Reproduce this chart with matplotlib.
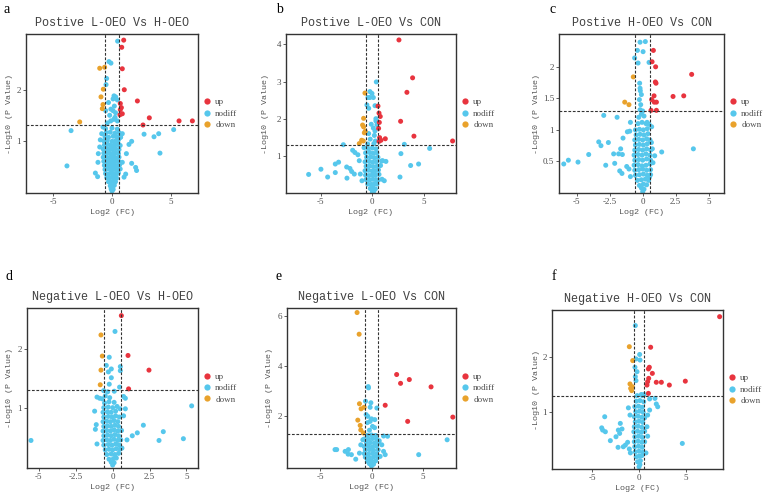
import matplotlib
matplotlib.use('Agg')
import matplotlib.pyplot as plt
from matplotlib.lines import Line2D
import numpy as np

plt.rcParams['axes.unicode_minus'] = False

# panel letters, titles and axis settings
letters = ['a', 'b', 'c', 'd', 'e', 'f']
titles = ['Postive L-OEO Vs H-OEO', 'Postive L-OEO Vs CON', 'Postive H-OEO Vs CON',
          'Negative L-OEO Vs H-OEO', 'Negative L-OEO Vs CON', 'Negative H-OEO Vs CON']
xlims = [(-7.35, 7.35), (-8.35, 8.1), (-6.34, 6.16), (-5.8, 5.78), (-8.2, 8.2), (-9.26, 8.94)]
ylims = [(-0.02, 3.09), (0.0, 4.28), (0.0, 2.52), (-0.03, 2.7), (-0.05, 6.3), (-0.02, 2.84)]
xticks = [[-5, 0, 5], [-5, 0, 5], [-5, -2.5, 0, 2.5, 5], [-5, -2.5, 0, 2.5, 5], [-5, 0, 5], [-5, 0, 5]]
yticks = [[1, 2], [1, 2, 3, 4], [0.5, 1, 1.5, 2], [1, 2], [2, 4, 6], [1, 2]]

# ---- a: Postive L-OEO Vs H-OEO
up_a = [(1.0, 2.97), (0.83, 2.83), (0.88, 2.41), (1.05, 2.0), (2.17, 1.78), (0.71, 1.73),
        (0.80, 1.65), (0.71, 1.61), (0.88, 1.53), (0.68, 1.51), (3.19, 1.45), (5.73, 1.39),
        (6.87, 1.39), (2.65, 1.31)]
down_a = [(-1.05, 2.42), (-0.63, 2.44), (-0.74, 2.01), (-0.94, 1.86), (-0.77, 1.71),
          (-0.83, 1.63), (-2.76, 1.37)]
nodiff_a = [(0.48, 2.95), (-0.26, 2.55), (-0.09, 2.52), (-0.46, 2.22), (-0.51, 2.1), (0.17, 1.88),
            (0.31, 1.86), (0.09, 1.82), (0.46, 1.8), (-3.5, 1.2), (-3.85, 0.51), (5.27, 1.22),
            (3.99, 1.14), (3.59, 1.08), (2.74, 1.13), (4.1, 0.76), (1.68, 0.99), (1.45, 0.93),
            (1.23, 0.75), (0.88, 0.58), (1.68, 0.56), (2.02, 0.48), (2.1, 0.42), (-1.42, 0.37),
            (-1.23, 0.30), (-1.17, 0.75), (-1.05, 0.88), (-0.88, 1.14), (-0.77, 1.27), (-1.0, 1.02),
            (-1.2, 0.58), (0.88, 1.14), (0.74, 1.07), (0.54, 0.94), (1.17, 0.35), (1.03, 0.29),
            (-0.54, 1.59), (-0.11, 1.39), (0.26, 1.46), (0.46, 1.39), (0.09, 1.59), (-0.4, 1.35),
            (0.15, 1.42), (-0.2, 1.5), (0.3, 1.55), (-0.1, 1.62), (0.2, 1.68), (-0.3, 1.75),
            (0.0, 0.02), (0.1, 0.05), (-0.08, 0.06), (-0.15, 0.12), (0.05, 0.11), (0.2, 0.13),
            (-0.3, 0.2), (-0.1, 0.19), (0.1, 0.21), (0.3, 0.2), (-0.45, 0.28), (-0.2, 0.27),
            (0.0, 0.29), (0.2, 0.28), (0.4, 0.27), (-0.55, 0.36), (-0.3, 0.35), (-0.05, 0.37),
            (0.15, 0.36), (0.35, 0.35), (0.55, 0.37), (-0.6, 0.44), (-0.35, 0.45), (-0.1, 0.43),
            (0.1, 0.45), (0.3, 0.44), (0.5, 0.43), (0.7, 0.45), (-0.65, 0.52), (-0.4, 0.53),
            (-0.15, 0.51), (0.05, 0.53), (0.25, 0.52), (0.45, 0.51), (0.65, 0.53), (-0.7, 0.6),
            (-0.45, 0.61), (-0.2, 0.59), (0.0, 0.6), (0.2, 0.61), (0.4, 0.6), (0.6, 0.59),
            (-0.75, 0.68), (-0.5, 0.69), (-0.25, 0.67), (-0.05, 0.68), (0.15, 0.69), (0.35, 0.67),
            (0.6, 0.68), (-0.7, 0.76), (-0.4, 0.77), (-0.15, 0.75), (0.1, 0.76), (0.3, 0.77),
            (0.55, 0.75), (-0.75, 0.84), (-0.45, 0.85), (-0.2, 0.83), (0.05, 0.84), (0.3, 0.85),
            (0.6, 0.83), (-0.65, 0.92), (-0.35, 0.93), (-0.1, 0.91), (0.2, 0.92), (0.45, 0.93),
            (0.7, 0.91), (-0.7, 1.0), (-0.4, 1.01), (0.0, 0.99), (0.3, 1.0), (0.55, 1.02),
            (-0.6, 1.08), (-0.3, 1.07), (0.1, 1.09), (0.4, 1.08), (0.7, 1.07), (-0.5, 1.16),
            (-0.15, 1.17), (0.25, 1.15), (0.6, 1.16), (-0.55, 1.24), (0.0, 1.25), (0.45, 1.23)]

# ---- b: Postive L-OEO Vs CON
up_b = [(2.58, 4.12), (3.9, 3.10), (3.35, 2.71), (0.55, 2.34), (2.74, 1.93), (0.65, 2.15),
        (0.77, 2.06), (0.68, 1.90), (0.61, 1.74), (4.03, 1.53), (1.26, 1.46), (0.71, 1.49),
        (0.84, 1.42), (0.65, 1.39), (7.77, 1.40)]
down_b = [(-0.71, 2.69), (-0.84, 2.01), (-0.94, 1.83), (-0.84, 1.78), (-0.68, 1.66),
          (-0.77, 1.62), (-1.03, 1.42), (-0.87, 1.40), (-1.26, 1.33)]
nodiff_b = [(0.39, 2.99), (-0.23, 2.73), (-0.03, 2.68), (-0.42, 2.57), (-0.23, 2.57), (0.1, 2.57),
            (-0.52, 2.37), (0.26, 2.35), (-0.35, 2.28), (0.35, 1.94), (0.45, 1.84), (0.26, 1.67),
            (-2.8, 1.30), (3.1, 1.31), (5.55, 1.20), (2.77, 1.06), (-6.16, 0.50), (-4.97, 0.64),
            (-4.32, 0.43), (-3.58, 0.55), (-3.58, 0.78), (-3.26, 0.83), (-2.45, 0.40), (-2.48, 0.70),
            (-2.16, 0.66), (-2.0, 0.58), (-1.74, 0.51), (-1.9, 1.15), (-1.68, 1.09), (-1.39, 1.03),
            (-1.26, 0.87), (3.71, 0.74), (4.48, 0.78), (2.68, 0.43), (1.0, 0.87), (1.32, 0.85),
            (1.16, 0.33), (0.94, 0.37), (-1.16, 0.51), (-1.0, 0.33), (-0.2, 1.45), (0.2, 1.55),
            (-0.35, 1.6), (0.1, 1.75), (0.3, 1.4), (-0.1, 1.85), (0.35, 2.0), (-0.45, 1.32),
            (0.15, 1.33), (0.0, 0.02), (0.15, 0.05), (-0.2, 0.12), (0.1, 0.13), (0.3, 0.11),
            (-0.45, 0.24), (-0.1, 0.23), (0.2, 0.25), (0.45, 0.24), (-0.6, 0.36), (-0.25, 0.35),
            (0.05, 0.37), (0.35, 0.36), (0.6, 0.35), (-0.65, 0.48), (-0.3, 0.47), (0.0, 0.49),
            (0.3, 0.48), (0.65, 0.5), (-0.7, 0.6), (-0.35, 0.61), (0.0, 0.59), (0.3, 0.6),
            (0.6, 0.62), (-0.6, 0.72), (-0.25, 0.73), (0.1, 0.71), (0.45, 0.72), (0.8, 0.74),
            (-0.7, 0.84), (-0.3, 0.85), (0.05, 0.83), (0.4, 0.84), (0.9, 0.86), (-0.55, 0.96),
            (-0.15, 0.97), (0.2, 0.95), (0.55, 0.96), (-0.65, 1.08), (-0.25, 1.09), (0.1, 1.07),
            (0.45, 1.08), (-0.4, 1.2), (0.0, 1.21), (0.35, 1.19), (-0.8, 1.22)]

# ---- c: Postive H-OEO Vs CON
up_c = [(0.81, 2.26), (0.71, 2.08), (0.98, 2.0), (3.71, 1.88), (0.96, 1.76), (1.01, 1.74),
        (2.30, 1.53), (3.11, 1.54), (0.86, 1.54), (0.88, 1.44), (0.68, 1.48), (1.04, 1.44),
        (0.63, 1.31), (1.04, 1.31)]
down_c = [(-0.71, 1.84), (-1.36, 1.44), (-1.04, 1.40)]
nodiff_c = [(-0.2, 2.39), (0.2, 2.40), (-0.4, 2.26), (0.03, 2.24), (-0.61, 2.14), (-0.35, 2.06),
            (0.48, 2.07), (-0.23, 1.74), (-0.18, 1.62), (-2.95, 1.23), (-1.94, 1.2), (3.84, 0.70),
            (1.44, 0.65), (-5.98, 0.46), (-5.63, 0.52), (-4.90, 0.49), (-4.09, 0.61), (-3.33, 0.81),
            (-3.16, 0.75), (-2.6, 0.80), (-2.8, 0.44), (-2.2, 0.62), (-1.82, 0.62), (-1.67, 0.70),
            (-1.54, 0.61), (-2.12, 0.47), (-1.74, 0.35), (-1.57, 0.31), (-1.49, 0.87), (-1.16, 0.97),
            (-0.98, 0.98), (-0.93, 1.12), (-1.21, 0.42), (-1.04, 0.38), (-0.93, 0.26), (0.33, 1.12),
            (0.48, 1.09), (0.68, 1.05), (0.66, 0.8), (0.73, 0.7), (0.91, 0.59), (0.78, 0.48),
            (0.51, 0.25), (0.0, 0.02), (0.1, 0.06), (-0.1, 0.08), (-0.25, 0.12), (0.05, 0.14),
            (0.3, 0.13), (-0.4, 0.2), (-0.1, 0.21), (0.2, 0.22), (0.45, 0.2), (-0.55, 0.28),
            (-0.25, 0.29), (0.05, 0.3), (0.35, 0.28), (0.6, 0.29), (-0.6, 0.36), (-0.3, 0.37),
            (0.0, 0.38), (0.3, 0.36), (0.6, 0.37), (-0.65, 0.44), (-0.35, 0.45), (-0.05, 0.43),
            (0.25, 0.44), (0.55, 0.46), (-0.6, 0.52), (-0.3, 0.53), (0.0, 0.52), (0.3, 0.54),
            (0.6, 0.52), (-0.65, 0.6), (-0.35, 0.61), (-0.05, 0.6), (0.25, 0.62), (0.55, 0.6),
            (-0.6, 0.68), (-0.3, 0.69), (0.0, 0.68), (0.3, 0.7), (0.6, 0.68), (-0.55, 0.76),
            (-0.25, 0.77), (0.05, 0.76), (0.35, 0.78), (-0.6, 0.84), (-0.3, 0.85), (0.0, 0.84),
            (0.3, 0.86), (0.55, 0.84), (-0.5, 0.92), (-0.2, 0.93), (0.1, 0.92), (0.4, 0.94),
            (-0.55, 1.0), (-0.25, 1.01), (0.05, 1.0), (0.35, 1.02), (-0.35, 1.1), (-0.05, 1.12),
            (0.25, 1.1), (-0.3, 1.2), (-0.1, 1.25), (-0.2, 1.32), (-0.15, 1.4), (-0.25, 1.48),
            (-0.1, 1.56), (-0.2, 1.66), (0.0, 1.3), (0.1, 1.22)]

# ---- d: Negative L-OEO Vs H-OEO
up_d = [(0.59, 2.57), (1.04, 1.89), (2.46, 1.64), (1.08, 1.32)]
down_d = [(-0.79, 2.24), (-0.7, 1.88), (-0.79, 1.64), (-0.84, 1.39)]
nodiff_d = [(0.16, 2.30), (-0.23, 1.86), (-0.43, 1.72), (-0.09, 1.66), (-0.29, 1.61), (0.52, 1.70),
            (0.52, 1.63), (-0.09, 1.51), (-0.23, 1.40), (0.47, 1.35), (0.11, 1.28), (-0.34, 1.27),
            (-0.61, 1.29), (5.35, 1.03), (-5.53, 0.44), (2.08, 0.70), (1.67, 0.57), (1.33, 0.52),
            (0.97, 0.45), (3.43, 0.59), (3.14, 0.44), (4.79, 0.47), (-1.06, 1.18), (-0.88, 1.16),
            (-1.22, 0.94), (-1.11, 0.71), (-1.17, 0.63), (-1.06, 0.38), (0.86, 0.98), (0.74, 0.86),
            (0.74, 1.19), (0.86, 1.16), (0.63, 0.31), (0.0, 0.02), (0.1, 0.06), (-0.1, 0.07),
            (-0.25, 0.12), (0.05, 0.13), (0.25, 0.14), (-0.4, 0.2), (-0.1, 0.21), (0.15, 0.2),
            (0.4, 0.22), (-0.5, 0.28), (-0.25, 0.29), (0.0, 0.28), (0.25, 0.3), (0.5, 0.29),
            (-0.6, 0.36), (-0.3, 0.37), (-0.05, 0.36), (0.2, 0.38), (0.45, 0.36), (-0.65, 0.44),
            (-0.4, 0.45), (-0.15, 0.44), (0.1, 0.46), (0.35, 0.44), (0.55, 0.45), (-0.6, 0.52),
            (-0.35, 0.53), (-0.1, 0.52), (0.15, 0.54), (0.4, 0.52), (-0.65, 0.6), (-0.4, 0.61),
            (-0.15, 0.6), (0.1, 0.62), (0.35, 0.6), (0.6, 0.61), (-0.6, 0.68), (-0.35, 0.69),
            (-0.1, 0.68), (0.15, 0.7), (0.4, 0.68), (-0.65, 0.76), (-0.4, 0.77), (-0.15, 0.76),
            (0.1, 0.78), (0.35, 0.76), (-0.6, 0.84), (-0.3, 0.85), (-0.05, 0.84), (0.2, 0.86),
            (0.45, 0.84), (-0.65, 0.92), (-0.35, 0.93), (-0.1, 0.92), (0.2, 0.94), (-0.6, 1.0),
            (-0.3, 1.01), (0.0, 1.0), (0.3, 1.02), (0.5, 0.98), (-0.55, 1.08), (-0.25, 1.1),
            (0.1, 1.09), (-0.7, 1.15), (-0.5, 1.2), (-0.2, 1.17)]

# ---- e: Negative L-OEO Vs CON
up_e = [(2.44, 3.66), (3.67, 3.46), (2.82, 3.31), (5.78, 3.17), (1.33, 2.44), (3.51, 1.80),
        (7.89, 1.97)]
down_e = [(-1.40, 6.12), (-1.2, 5.26), (-1.17, 2.50), (-1.01, 2.30), (-0.71, 2.36),
          (-1.33, 1.85), (-1.10, 1.64), (-1.04, 1.46), (-0.78, 1.34)]
nodiff_e = [(-0.32, 3.18), (-0.29, 3.13), (-0.58, 2.60), (-0.06, 2.54), (-0.13, 2.36), (-0.52, 2.07),
            (-0.36, 2.0), (0.52, 2.33), (0.32, 1.87), (-0.13, 1.80), (1.17, 1.22), (1.56, 1.21),
            (7.34, 1.07), (4.58, 0.48), (-3.54, 0.68), (-3.38, 0.68), (-2.56, 0.61), (-2.24, 0.68),
            (-2.27, 0.50), (-1.95, 0.48), (-1.53, 0.30), (-1.17, 0.54), (-1.04, 0.87), (-0.84, 1.07),
            (1.0, 0.87), (1.17, 0.61), (1.33, 0.48), (0.84, 0.41), (0.75, 1.03), (-0.2, 1.45),
            (0.1, 1.6), (-0.4, 1.75), (0.3, 1.55), (0.0, 1.9), (0.0, 0.03), (0.2, 0.1), (-0.2, 0.12),
            (-0.4, 0.22), (0.0, 0.24), (0.4, 0.23), (-0.6, 0.38), (-0.2, 0.36), (0.2, 0.39),
            (0.6, 0.37), (-0.7, 0.52), (-0.3, 0.5), (0.1, 0.53), (0.5, 0.51), (-0.6, 0.66),
            (-0.2, 0.68), (0.2, 0.65), (0.65, 0.67), (-0.7, 0.8), (-0.3, 0.82), (0.1, 0.79),
            (0.5, 0.81), (-0.5, 0.95), (-0.1, 0.96), (0.3, 0.94), (0.7, 0.97), (-0.7, 1.1),
            (-0.3, 1.1), (0.1, 1.12), (0.5, 1.09), (-0.4, 1.25), (0.0, 1.26), (0.4, 1.24)]

# ---- f: Negative H-OEO Vs CON
up_f = [(8.58, 2.72), (1.24, 2.17), (1.1, 1.81), (1.0, 1.78), (1.42, 1.70), (1.03, 1.61),
        (0.92, 1.55), (1.84, 1.54), (2.38, 1.54), (3.23, 1.49), (4.93, 1.56), (0.85, 1.49),
        (1.0, 1.34)]
down_f = [(-1.03, 2.18), (-0.67, 1.93), (-0.96, 1.51), (-0.89, 1.43), (-0.78, 1.39), (-0.71, 1.46)]
nodiff_f = [(-0.39, 2.56), (0.07, 2.04), (-0.32, 1.96), (-0.43, 1.81), (-0.21, 1.73), (-0.39, 1.64),
            (0.11, 1.94), (-0.32, 1.57), (0.35, 1.3), (0.55, 1.32), (1.84, 1.15), (1.99, 1.10),
            (1.70, 1.25), (1.13, 1.24), (4.61, 0.44), (-3.65, 0.92), (-3.97, 0.72), (-3.87, 0.68),
            (-3.58, 0.65), (-3.05, 0.49), (-2.45, 0.56), (-1.99, 0.80), (-2.20, 0.68), (-1.81, 0.70),
            (-2.06, 0.62), (-2.23, 0.37), (-1.67, 0.38), (-1.45, 0.41), (-1.21, 0.46), (-1.03, 0.34),
            (-1.13, 1.08), (-0.96, 0.95), (-0.92, 0.27), (1.13, 1.04), (0.92, 0.95), (0.85, 0.74),
            (0.92, 0.57), (0.74, 0.27), (0.0, 0.02), (0.1, 0.06), (-0.15, 0.11), (0.15, 0.13),
            (-0.3, 0.2), (0.0, 0.21), (0.3, 0.22), (-0.4, 0.29), (0.0, 0.3), (0.4, 0.28),
            (-0.45, 0.38), (-0.05, 0.39), (0.35, 0.37), (-0.5, 0.47), (-0.1, 0.48), (0.3, 0.46),
            (0.6, 0.47), (-0.45, 0.56), (-0.05, 0.57), (0.35, 0.55), (-0.55, 0.65), (-0.15, 0.66),
            (0.25, 0.64), (0.6, 0.66), (-0.5, 0.74), (-0.1, 0.75), (0.3, 0.73), (-0.4, 0.83),
            (0.0, 0.84), (0.4, 0.82), (-0.5, 0.92), (-0.1, 0.93), (0.3, 0.91), (0.6, 0.9),
            (-0.35, 1.01), (0.05, 1.02), (0.45, 1.0), (-0.45, 1.1), (-0.05, 1.11), (0.35, 1.09),
            (-0.3, 1.2), (0.1, 1.21), (0.5, 1.19), (-0.2, 1.3), (0.25, 1.32)]

ups = [up_a, up_b, up_c, up_d, up_e, up_f]
downs = [down_a, down_b, down_c, down_d, down_e, down_f]
nodiffs = [nodiff_a, nodiff_b, nodiff_c, nodiff_d, nodiff_e, nodiff_f]

RED = '#E8343E'
BLUE = '#56C7EC'
ORANGE = '#E9A22C'

W, H = 767, 493
# axes boxes in pixels: left, top, right, bottom
boxes = [(26, 34, 198, 193), (286, 34, 456, 193), (559, 34, 724, 193),
         (27, 308, 198, 468), (287, 308, 456, 468), (552, 310, 723, 469)]
letter_pos = [(3, 13), (276, 13), (549, 13), (5, 280), (276, 280), (552, 280)]
ylabel_x = [-0.076, -0.1, -0.115, -0.079, -0.08, -0.07]

fig = plt.figure(figsize=(W / 100, H / 100), dpi=100)

for i in range(6):
    l, t, r, b = boxes[i]
    ax = fig.add_axes([l / W, 1 - b / H, (r - l) / W, (b - t) / H])
    for pts, col, lab in [(nodiffs[i], BLUE, 'nodiff'), (ups[i], RED, 'up'), (downs[i], ORANGE, 'down')]:
        arr = np.array(pts)
        ax.scatter(arr[:, 0], arr[:, 1], s=13, c=col, edgecolors='none', zorder=2)
    ax.axhline(1.301, color='#333333', lw=0.8, ls=(0, (2.5, 1.5)), zorder=3)
    ax.axvline(-0.585, color='#333333', lw=0.8, ls=(0, (2.5, 1.5)), zorder=3)
    ax.axvline(0.585, color='#333333', lw=0.8, ls=(0, (2.5, 1.5)), zorder=3)
    ax.set_xlim(*xlims[i])
    ax.set_ylim(*ylims[i])
    ax.set_xticks(xticks[i])
    ax.set_yticks(yticks[i])
    ax.set_xticklabels([f'{v:g}' for v in xticks[i]])
    ax.set_yticklabels([f'{v:g}' for v in yticks[i]])
    ax.tick_params(length=2, width=0.6, color='#444444', pad=1.5, labelsize=6.5,
                   labelcolor='#4D4D4D')
    for lab in ax.get_xticklabels() + ax.get_yticklabels():
        lab.set_fontfamily('Liberation Serif')
    for sp in ax.spines.values():
        sp.set_color('#333333')
        sp.set_linewidth(1.0)
    ax.set_title(titles[i], family='Liberation Mono', fontsize=8.5, color='#404040', pad=6)
    ax.set_xlabel('Log2 (FC)', family='Liberation Mono', fontsize=6, color='#555555', labelpad=2)
    ax.set_ylabel('-Log10 (P Value)', family='Liberation Mono', fontsize=6, color='#555555')
    ax.yaxis.set_label_coords(ylabel_x[i], 0.5)

    handles = [Line2D([], [], marker='o', ls='', color=c, markersize=4.5, markeredgewidth=0)
               for c in (RED, BLUE, ORANGE)]
    leg = ax.legend(handles, ['up', 'nodiff', 'down'], loc='center left', bbox_to_anchor=(1.0, 0.5),
                    frameon=False, fontsize=6.5, handlelength=0.8, handletextpad=0.5,
                    labelspacing=0.35, borderaxespad=0.3, borderpad=0.3,
                    prop={'family': 'Liberation Serif', 'size': 6.5})
    for txt in leg.get_texts():
        txt.set_color('#4D4D4D')

    fig.text(letter_pos[i][0] / W, 1 - letter_pos[i][1] / H, letters[i], family='Liberation Serif',
             fontsize=10, color='black', ha='left', va='baseline')

fig.savefig('out.png', dpi=100)
